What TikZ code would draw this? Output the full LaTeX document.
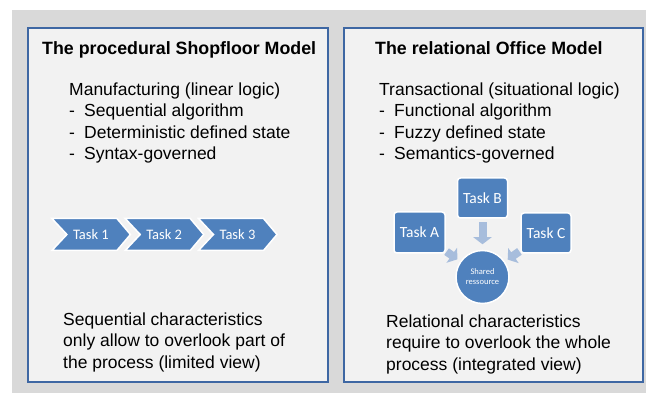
\documentclass[tikz,border=0pt]{standalone}
\usepackage{fontspec}
\setmainfont{Liberation Sans}
\newfontfamily\carlito{Carlito}
\usetikzlibrary{arrows.meta, positioning}

\definecolor{bggray}{HTML}{D9D9D9}
\definecolor{panelfill}{HTML}{F2F2F2}
\definecolor{panelline}{HTML}{3E67A3}
\definecolor{taskblue}{HTML}{4F81BD}
\definecolor{arrowblue}{HTML}{A7BDDC}

\tikzset{
  panel/.style={draw=panelline, line width=2pt, fill=panelfill},
  paneltitle/.style={anchor=base west, inner sep=0pt, font=\fontsize{17.8}{21.5}\selectfont\bfseries},
  paneltext/.style={anchor=north west, inner sep=0pt, align=left, font=\fontsize{17.5}{21.5}\selectfont},
  chevron/.style={fill=taskblue, draw=white, line width=1.5pt, line join=miter},
  chevrontext/.style={inner sep=0pt, text=white, font=\carlito\fontsize{14.5}{16}\selectfont},
  taskbox/.style={rectangle, rounded corners=3pt, fill=taskblue, draw=white, line width=1.5pt,
    minimum width=50pt, minimum height=40pt, inner sep=0pt, text=white,
    font=\carlito\fontsize{15.5}{17}\selectfont},
  resource/.style={circle, fill=taskblue, draw=white, line width=1.5pt, minimum size=53pt,
    inner sep=0pt, align=center, text=white, font=\carlito\fontsize{8.5}{10}\selectfont},
  blockarr/.style={draw=arrowblue, line width=8pt, -{Triangle[width=18pt,length=7pt]}},
}
\newcommand{\dashitem}{\makebox[15pt][l]{-}}

\begin{document}
\begin{tikzpicture}[x=1pt, y=-1pt]
\useasboundingbox (0,0) rectangle (646,393);
%% background and the two panels
\fill[bggray] (12,10) rectangle (646,393);
\draw[panel] (28,28) rectangle (328,382);
\draw[panel] (344,28) rectangle (643,382);

%% left panel: shopfloor
\node[paneltitle] (shoptitle) at (42,55) {The procedural Shopfloor Model};
\node[paneltext] (shoplist) at (69,82.2) {Manufacturing (linear logic)\\
  \dashitem Sequential algorithm\\
  \dashitem Deterministic defined state\\
  \dashitem Syntax-governed};
\foreach \i in {1,2,3}{
  \draw[chevron, shift={({90.9+73.3*(\i-1)},234.5)}]
    (-39,-16) -- (26,-16) -- (39.5,0) -- (26,16) -- (-39,16) -- (-24,0) -- cycle;
  \node[chevrontext] (task\i) at ({90.9+73.3*(\i-1)},234.5) {Task \i};
}
\node[paneltext] (shopnote) at (63,312.2) {Sequential characteristics\\
  only allow to overlook part of\\
  the process (limited view)};

%% right panel: office
\node[paneltitle] (officetitle) at (375,55) {The relational Office Model};
\node[paneltext] (officelist) at (379,82.2) {Transactional (situational logic)\\
  \dashitem Functional algorithm\\
  \dashitem Fuzzy defined state\\
  \dashitem Semantics-governed};
\node[resource] (res) at (482.5,277) {Shared\\ressource};
\node[taskbox] (taskB) [above=31pt of res] {Task B};
\node[taskbox, minimum width=51pt, minimum height=41pt] (taskA) at (419.5,232.5) {Task A};
\node[taskbox] (taskC) at (546,233) {Task C};
\draw[blockarr, shorten <=3.5pt, shorten >=5.5pt] (taskB) -- (res);
\draw[blockarr, shorten <=1pt, shorten >=3.4pt] (taskA) -- (res);
\draw[blockarr, shorten <=1pt, shorten >=3.4pt] (taskC) -- (res);
\node[paneltext] (officenote) at (386,314.2) {Relational characteristics\\
  require to overlook the whole\\
  process (integrated view)};
\end{tikzpicture}
\end{document}
